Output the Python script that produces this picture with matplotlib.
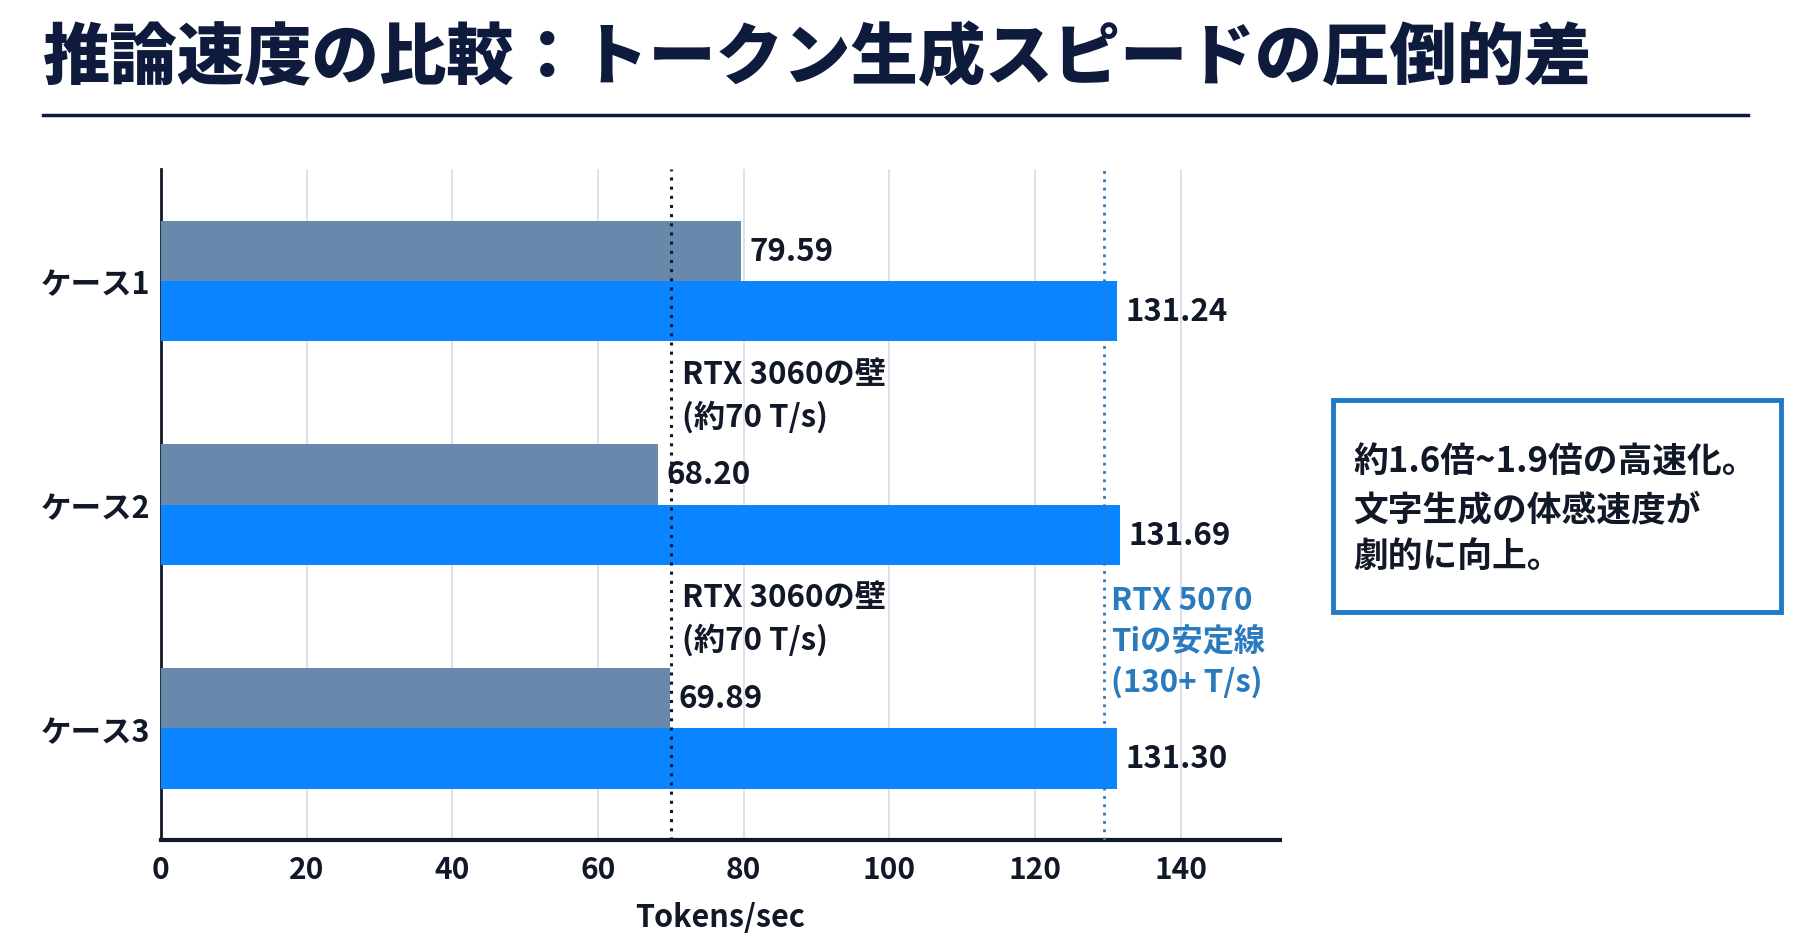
import matplotlib
matplotlib.use("Agg")
import matplotlib.pyplot as plt
from matplotlib.patches import Rectangle
from matplotlib.lines import Line2D
import numpy as np

plt.rcParams['font.family'] = ['Noto Sans CJK JP', 'DejaVu Sans']

# ---- data ----
cases = ['ケース1', 'ケース2', 'ケース3']
rtx3060 = [79.59, 68.20, 69.89]
rtx5070ti = [131.24, 131.69, 131.30]
xticks = [0, 20, 40, 60, 80, 100, 120, 140]
wall_3060 = 70
line_5070 = 129.5
title = '推論速度の比較：トークン生成スピードの圧倒的差'
xlabel = 'Tokens/sec'
wall_label = 'RTX 3060の壁\n(約70 T/s)'
stable_label = 'RTX 5070\nTiの安定線\n(130+ T/s)'
box_text = '約1.6倍~1.9倍の高速化。\n文字生成の体感速度が\n劇的に向上。'

DARK = '#111827'
NAVY = '#0f1b3d'
GRAY = '#6889ab'
BLUE = '#0a84ff'
STEEL = '#2a7bbd'

fig = plt.figure(figsize=(18.04, 9.45), dpi=100)
ax = fig.add_axes([0.0892, 0.110, 0.6203, 0.710])

y = np.arange(len(cases))
h = 0.27
ax.barh(y - h / 2, rtx3060, height=h, color=GRAY, zorder=3)
ax.barh(y + h / 2, rtx5070ti, height=h, color=BLUE, zorder=3)

for yi, v in zip(y - h / 2, rtx3060):
    ax.annotate(f'{v:.2f}', (v, yi), xytext=(6, 0), textcoords='offset points',
                va='center', ha='left', fontsize=22.5, fontweight='bold', color=DARK, zorder=5)
for yi, v in zip(y + h / 2, rtx5070ti):
    ax.annotate(f'{v:.2f}', (v, yi), xytext=(6, 0), textcoords='offset points',
                va='center', ha='left', fontsize=22.5, fontweight='bold', color=DARK, zorder=5)

ax.axvline(wall_3060, color=DARK, linestyle=(0, (1, 2)), linewidth=2.2, zorder=4)
ax.axvline(line_5070, color=STEEL, linestyle=(0, (1, 2)), linewidth=2.0, zorder=4)

for k in [0, 1]:
    ax.text(wall_3060 + 1.5, k + 0.51, wall_label, ha='left', va='center',
            fontsize=22.5, fontweight='bold', color=DARK, linespacing=1.4, zorder=5)
ax.text(line_5070 + 0.9, 1.61, stable_label, ha='left', va='center',
        fontsize=22.5, fontweight='bold', color=STEEL, linespacing=1.35, zorder=5)

ax.set_xlim(0, 153.6)
ax.set_ylim(2.5, -0.5)
ax.set_yticks(y)
ax.set_yticklabels(cases, fontsize=22, fontweight='bold', color=DARK)
ax.set_xticks(xticks)
ax.set_xticklabels([str(t) for t in xticks], fontsize=21.5, fontweight='bold', color=DARK)
ax.tick_params(axis='both', length=0)
ax.tick_params(axis='x', pad=10)
ax.tick_params(axis='y', pad=8)
ax.set_xlabel(xlabel, fontsize=22, fontweight='bold', color=DARK, labelpad=12)

ax.grid(axis='x', color='#d9dce1', linewidth=1.2, zorder=0)
ax.set_axisbelow(True)
for s in ['top', 'right']:
    ax.spines[s].set_visible(False)
ax.spines['left'].set_color(DARK)
ax.spines['left'].set_linewidth(2)
ax.spines['bottom'].set_color(DARK)
ax.spines['bottom'].set_linewidth(3)

# title and rule
fig.text(0.024, 0.938, title, ha='left', va='center', fontsize=48.5,
         fontweight='black', color=NAVY)
fig.add_artist(Line2D([0.024, 0.969], [0.877, 0.877], color=NAVY, linewidth=2.5,
                      transform=fig.transFigure))

# callout box
fig.add_artist(Rectangle((0.739, 0.351), 0.248, 0.225, transform=fig.transFigure,
                         facecolor='white', edgecolor='#1f7bc8', linewidth=3.5))
fig.text(0.750, 0.461, box_text, ha='left', va='center', fontsize=25,
         fontweight='bold', color=DARK, linespacing=1.42)

fig.savefig('out.png', dpi=100)
